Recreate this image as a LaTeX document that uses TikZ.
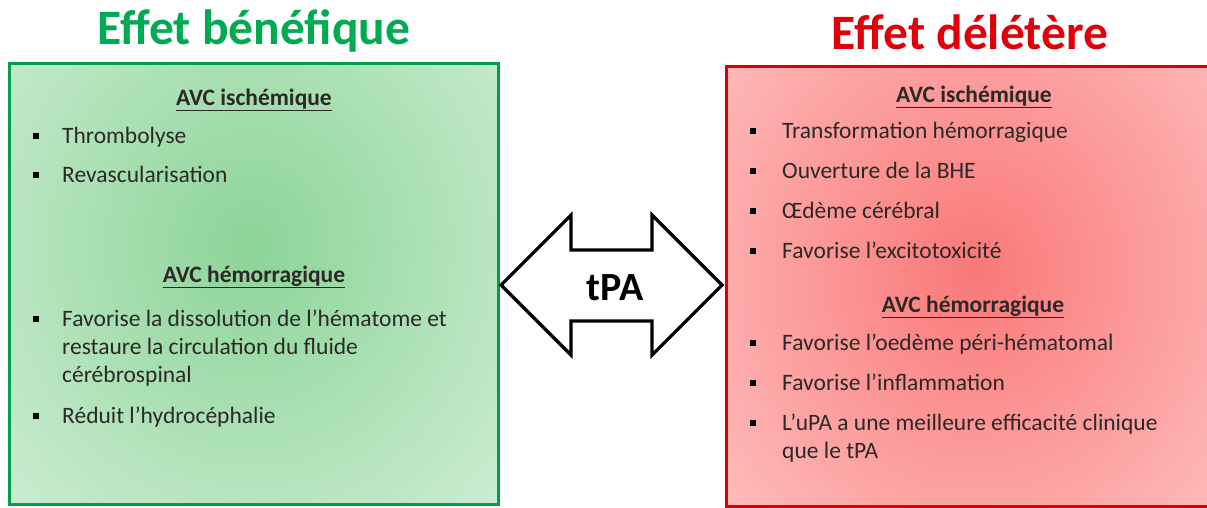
\documentclass[tikz,border=0pt]{standalone}
\usepackage{fontspec}
\setmainfont{Carlito}
\definecolor{gTitle}{RGB}{0,170,80}
\definecolor{gLine}{RGB}{0,160,75}
\definecolor{gIn}{RGB}{140,212,152}
\definecolor{gOut}{RGB}{218,242,222}
\definecolor{rTitle}{RGB}{225,0,10}
\definecolor{rLine}{RGB}{220,0,0}
\definecolor{rIn}{RGB}{250,120,120}
\definecolor{rOut}{RGB}{255,208,208}
\definecolor{txt}{RGB}{45,40,40}
\begin{document}
\begin{tikzpicture}[x=1pt,y=-1pt,
  title/.style={font=\fontsize{49.5}{58}\selectfont\bfseries, inner sep=0, anchor=base},
  head/.style={font=\fontsize{23.5}{28}\selectfont\bfseries, text=txt, inner sep=0, anchor=base},
  item/.style={font=\fontsize{23.5}{28}\selectfont, text=txt, inner sep=0, anchor=base west, align=left},
  bul/.style={fill=black, inner sep=0, minimum size=6pt},
  boxline/.style={line width=3pt},
  arrowshape/.style={draw=black, fill=white, line width=3.2pt, line join=miter}]
\useasboundingbox (0,0) rectangle (1207,507);
% green box shading
\begin{scope}
\clip (9,63) rectangle (498,504);
\fill[gOut] (9,63) rectangle (498,504);
\shade[inner color=gIn, outer color=gOut] (250,245) ellipse (420 and 460);
\end{scope}
% red box shading
\begin{scope}
\clip (726,66) rectangle (1215,506);
\fill[rOut] (726,66) rectangle (1215,506);
\shade[inner color=rIn, outer color=rOut] (975,270) ellipse (430 and 470);
\end{scope}
\node[draw=gLine, boxline, minimum width=489pt, minimum height=441pt, inner sep=0] (gbox) at (253.5,283.5) {};
\node[draw=rLine, boxline, minimum width=489pt, minimum height=440pt, inner sep=0] (rbox) at (970.5,286) {};
% titles
\node[title, text=gTitle] (gtitle) at (254,44) {Effet bénéfique};
\node[title, text=rTitle] (rtitle) at (970,49) {Effet délétère};
% left content
\node[head] (gh1) at (254,105) {\underline{AVC ischémique}};
\node[bul] (gb1) at (36,136) {};
\node[item] (gi1) at (62,143) {Thrombolyse};
\node[bul] (gb2) at (36,175) {};
\node[item] (gi2) at (62,182) {Revascularisation};
\node[head] (gh2) at (254,282) {\underline{AVC hémorragique}};
\node[bul] (gb3) at (36,319) {};
\node[item] (gi3) at (62,382) {Favorise la dissolution de l'hématome et\\restaure la circulation du fluide\\cérébrospinal};
\node[bul] (gb4) at (36,416) {};
\node[item] (gi4) at (62,423) {Réduit l’hydrocéphalie};
% right content
\node[head] (rh1) at (974,102) {\underline{AVC ischémique}};
\node[bul] (rb1) at (753,131) {};
\node[item] (ri1) at (782,138) {Transformation hémorragique};
\node[bul] (rb2) at (753,171) {};
\node[item] (ri2) at (782,178) {Ouverture de la BHE};
\node[bul] (rb3) at (753,211) {};
\node[item] (ri3) at (782,218) {Œdème cérébral};
\node[bul] (rb4) at (753,251) {};
\node[item] (ri4) at (782,258) {Favorise l’excitotoxicité};
\node[head] (rh2) at (973,312) {\underline{AVC hémorragique}};
\node[bul] (rb5) at (753,343) {};
\node[item] (ri5) at (782,350) {Favorise l’oedème péri-hématomal};
\node[bul] (rb6) at (753,383) {};
\node[item] (ri6) at (782,390) {Favorise l’inflammation};
\node[bul] (rb7) at (753,423) {};
\node[item] (ri7) at (782,458) {L’uPA a une meilleure efficacité clinique\\que le tPA};
% double arrow
\coordinate (lt) at (501,285);
\coordinate (rt) at (722,285);
\draw[arrowshape] (lt) -- (571,215) -- (571,250) -- (652,250) -- (652,215) -- (rt)
  -- (652,355) -- (652,321) -- (571,321) -- (571,355) -- cycle;
\node[font=\fontsize{40}{48}\selectfont\bfseries, inner sep=0, anchor=base] (tpa) at (615,300) {tPA};
\end{tikzpicture}
\end{document}
